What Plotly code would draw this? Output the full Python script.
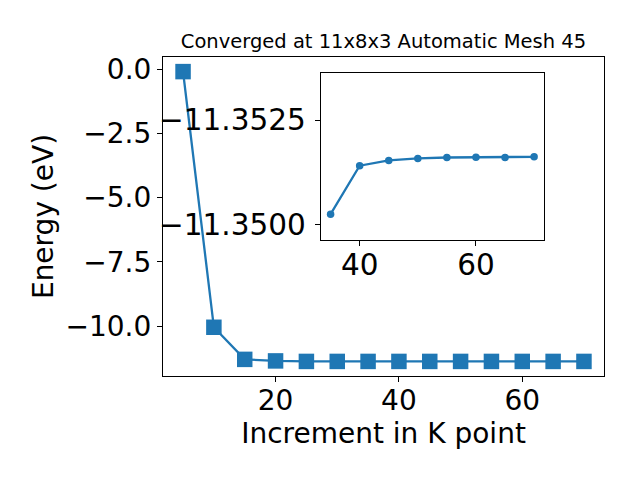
import plotly.graph_objects as go

# Main series
kpoints = [5, 10, 15, 20, 25, 30, 35, 40, 45, 50, 55, 60, 65, 70]
energy = [-0.09, -10.05, -11.30, -11.36, -11.38, -11.38, -11.38, -11.38,
          -11.38, -11.38, -11.38, -11.38, -11.38, -11.38]

# Inset series
inset_k = [35, 40, 45, 50, 55, 60, 65, 70]
inset_e = [-11.350245, -11.351405, -11.351531, -11.351579, -11.351602,
           -11.351610, -11.351602, -11.351619]

main_xticks = [20, 40, 60]
main_yticks = [0.0, -2.5, -5.0, -7.5, -10.0]
main_yticktext = ["0.0", "\u22122.5", "\u22125.0", "\u22127.5", "\u221210.0"]
inset_xticks = [40, 60]
inset_yticks = [-11.3525, -11.3500]
inset_yticktext = ["\u221211.3525", "\u221211.3500"]

title_text = "Converged at 11x8x3 Automatic Mesh 45"
xlabel = "Increment in K point"
ylabel = "Energy (eV)"

blue = "#1f77b4"
FONT = "DejaVu Sans"

fig = go.Figure()
fig.add_trace(go.Scatter(
    x=kpoints, y=energy, mode="lines+markers",
    line=dict(color=blue, width=2.3),
    marker=dict(symbol="square", size=15.5, color=blue),
    xaxis="x", yaxis="y", showlegend=False))
fig.add_trace(go.Scatter(
    x=inset_k, y=inset_e, mode="lines+markers",
    line=dict(color=blue, width=2.3),
    marker=dict(symbol="circle", size=7.5, color=blue),
    xaxis="x2", yaxis="y2", showlegend=False))

axis_common = dict(
    ticks="outside", ticklen=5, tickwidth=1.1, tickcolor="black",
    showline=True, mirror=True, linecolor="black", linewidth=1.1,
    showgrid=False, zeroline=False,
)
main_font = dict(family=FONT, size=28, color="black")
inset_font = dict(family=FONT, size=29.5, color="black")

fig.update_layout(
    width=640, height=480,
    margin=dict(l=155, r=44, t=49, b=112),
    paper_bgcolor="white", plot_bgcolor="white",
    font=dict(family=FONT, color="black"),
    title=dict(text=title_text, font=dict(family=FONT, size=19.5, color="black"),
               x=0.5, xref="paper", xanchor="center",
               y=1 - 33 / 480, yref="container", yanchor="middle"),
    xaxis=dict(range=[1.75, 73.25], tickvals=main_xticks, ticklabelstandoff=-6,
               tickfont=main_font,
               title=dict(text=xlabel, font=dict(family=FONT, size=28, color="black"), standoff=3),
               **axis_common),
    yaxis=dict(range=[-11.948, 0.479], tickvals=main_yticks, ticktext=main_yticktext,
               tickfont=main_font,
               title=dict(text=ylabel, font=dict(family=FONT, size=28, color="black"), standoff=3),
               **axis_common),
    xaxis2=dict(domain=[0.3576, 0.8646], anchor="y2", range=[33.3, 71.75],
                tickvals=inset_xticks, ticklabelstandoff=-6, tickfont=inset_font,
                **axis_common),
    yaxis2=dict(domain=[0.4263, 0.9508], anchor="x2", range=[-11.349626, -11.353633],
                tickvals=inset_yticks, ticktext=inset_yticktext, ticklabelstandoff=3,
                tickfont=inset_font, **axis_common),
)

fig.write_html("out.html")
